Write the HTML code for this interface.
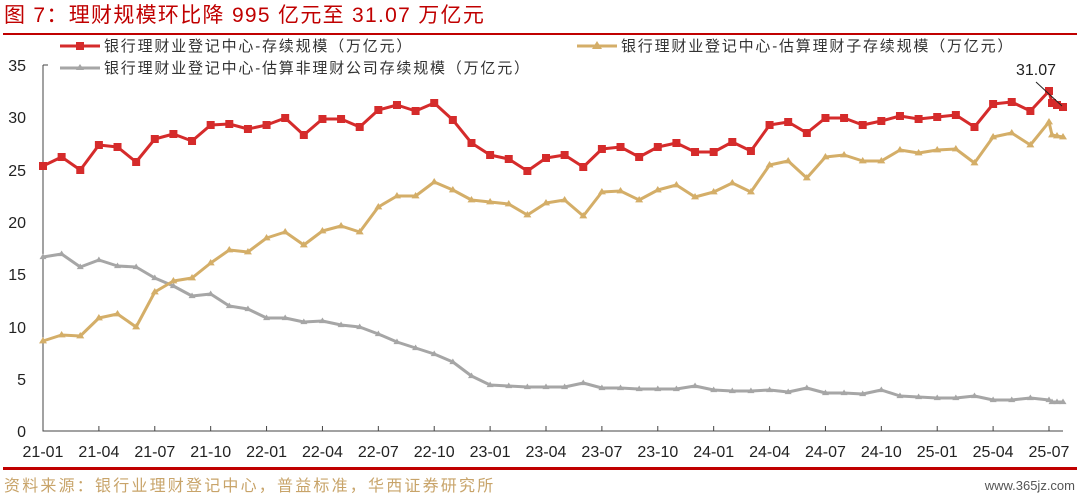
<!DOCTYPE html>
<html><head><meta charset="utf-8"><style>
body{margin:0;background:#fff;width:1080px;height:498px;overflow:hidden}
svg{display:block}
text{font-family:"Liberation Sans","Noto Sans CJK SC",sans-serif}
</style></head><body>
<svg width="1080" height="498" viewBox="0 0 1080 498" xmlns="http://www.w3.org/2000/svg">
<text x="4" y="22" font-size="21" fill="#c00000" letter-spacing="1.3">图 7：理财规模环比降 995 亿元至 31.07 万亿元</text>
<rect x="3" y="33" width="1074" height="2" fill="#c00000"/>
<rect x="3" y="467" width="1074" height="3" fill="#c00000"/>
<text x="4" y="491" font-size="16" fill="#c8a46a" letter-spacing="2.2">资料来源：银行业理财登记中心，普益标准，华西证券研究所</text>
<text x="1075" y="490" font-size="13" fill="#555" text-anchor="end">www.365jz.com</text>
<g font-size="16" fill="#222" text-anchor="end">
<text x="26" y="71">35</text><text x="26" y="123">30</text><text x="26" y="176">25</text><text x="26" y="228">20</text><text x="26" y="280">15</text><text x="26" y="333">10</text><text x="26" y="385">5</text><text x="26" y="437">0</text>
</g>
<path d="M43 65V431H1063" fill="none" stroke="#444" stroke-width="1"/>
<path d="M43 65h5" stroke="#444"/>
<g id="xt" font-size="16" fill="#222" text-anchor="middle"></g>
<g id="series"></g>
<g font-size="15" fill="#333" letter-spacing="1.8">
<line x1="60" y1="46" x2="100" y2="46" stroke="#d52b2b" stroke-width="3"/><rect x="76" y="42" width="8" height="8" fill="#d52b2b"/>
<text x="104" y="51">银行理财业登记中心-存续规模（万亿元）</text>
<line x1="60" y1="68" x2="100" y2="68" stroke="#a6a6a6" stroke-width="3"/><path d="M80 64l4 6h-8z" fill="#a6a6a6"/>
<text x="104" y="73">银行理财业登记中心-估算非理财公司存续规模（万亿元）</text>
<line x1="577" y1="46" x2="617" y2="46" stroke="#d4ae68" stroke-width="3"/><path d="M597 41l5 8h-10z" fill="#d4ae68"/>
<text x="621" y="51">银行理财业登记中心-估算理财子存续规模（万亿元）</text>
</g>
<text x="1036" y="75" font-size="16" fill="#222" text-anchor="middle">31.07</text>
<line x1="1036" y1="82" x2="1062" y2="106" stroke="#222" stroke-width="1"/>
</svg>
<script>
const ns="http://www.w3.org/2000/svg";
const step=(1049-43)/54;
const xs=[];for(let i=0;i<55;i++)xs.push(43+i*step);xs.push(1052,1057,1063);
const red=[166,157,170,145,147,162,139,134,141,125,124,129,125,118,135,119,119,127,110,105,111,103,120,143,155,159,171,158,155,167,149,147,157,147,143,152,152,142,151,125,122,133,118,118,125,121,116,119,117,115,127,104,102,111,91,103,105,107];
const gold=[341,335,336,318,314,327,292,281,278,263,250,252,238,232,245,231,226,232,207,196,196,182,190,200,202,204,215,203,200,216,192,191,200,190,185,197,192,183,192,165,161,178,157,155,161,161,150,153,150,149,163,137,133,145,122,135,136,137];
const gray=[257,254,267,260,266,267,278,286,296,294,306,309,318,318,322,321,325,327,334,342,348,354,362,376,385,386,387,387,387,383,388,388,389,389,389,386,390,391,391,390,392,388,393,393,394,390,396,397,398,398,396,400,400,398,400,402,402,402];
const svg=document.querySelector('svg');
const xt=document.getElementById('xt');
const labs=["21-01","21-04","21-07","21-10","22-01","22-04","22-07","22-10","23-01","23-04","23-07","23-10","24-01","24-04","24-07","24-10","25-01","25-04","25-07"];
labs.forEach((l,k)=>{const x=43+k*3*step;
 const t=document.createElementNS(ns,'text');t.setAttribute('x',x);t.setAttribute('y',457);t.textContent=l;xt.appendChild(t);
 const ln=document.createElementNS(ns,'line');ln.setAttribute('x1',x);ln.setAttribute('x2',x);ln.setAttribute('y1',431);ln.setAttribute('y2',426);ln.setAttribute('stroke','#444');svg.insertBefore(ln,xt);});
const g=document.getElementById('series');
function draw(ys,col,w,mk){
 const p=document.createElementNS(ns,'polyline');
 p.setAttribute('points',ys.map((y,i)=>xs[i].toFixed(1)+','+y).join(' '));
 p.setAttribute('fill','none');p.setAttribute('stroke',col);p.setAttribute('stroke-width',w);p.setAttribute('stroke-linejoin','round');g.appendChild(p);
 ys.forEach((y,i)=>{const x=xs[i];let e;
  if(mk==='sq'){e=document.createElementNS(ns,'rect');e.setAttribute('x',x-4);e.setAttribute('y',y-4);e.setAttribute('width',8);e.setAttribute('height',8);}
  else{const s=mk;e=document.createElementNS(ns,'path');e.setAttribute('d',`M${x} ${y-s}l${s} ${s*1.6}h${-2*s}z`);}
  e.setAttribute('fill',col);g.appendChild(e);});
}
draw(gray,'#a6a6a6',3,3.5);
draw(gold,'#d4ae68',3,4);
draw(red,'#d52b2b',3,'sq');
</script>
</body></html>
